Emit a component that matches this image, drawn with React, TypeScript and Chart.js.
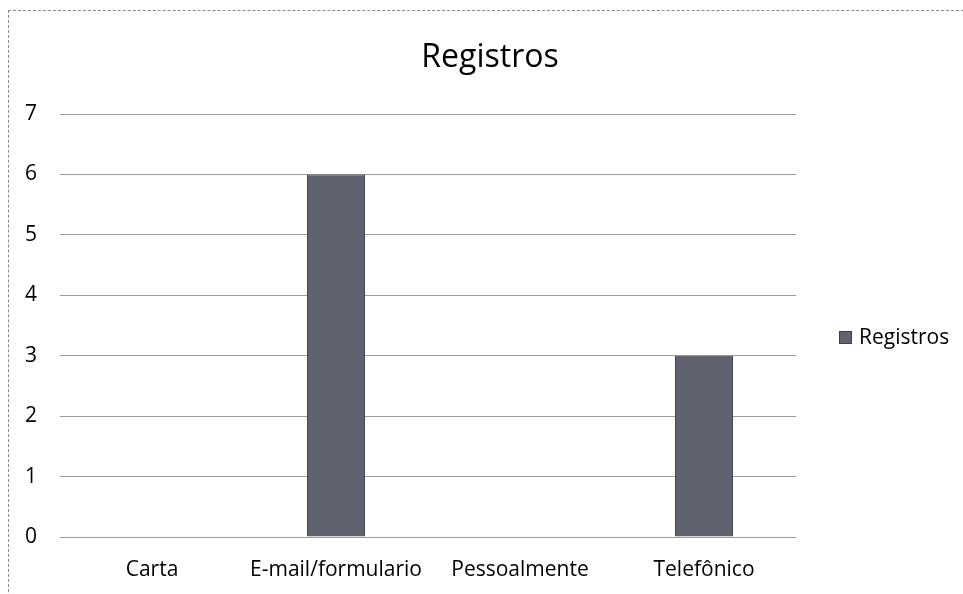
import React, { useEffect, useRef } from "react";
import { Chart, registerables } from "chart.js";

Chart.register(...registerables);

const categories = ["Carta", "E-mail/formulario", "Pessoalmente", "Telefônico"];
const registros = [0, 6, 0, 3];
const yTicks = [0, 1, 2, 3, 4, 5, 6, 7];
const seriesName = "Registros";
const chartTitle = "Registros";

const FONT = "'Open Sans', 'DejaVu Sans', sans-serif";

const titleLegendPlugin = {
  id: "titleLegend",
  afterDraw(chart: any) {
    const ctx = chart.ctx;
    ctx.save();
    // Title
    ctx.fillStyle = "#000";
    ctx.font = `32px ${FONT}`;
    ctx.textAlign = "center";
    ctx.textBaseline = "alphabetic";
    ctx.fillText(chartTitle, 482, 57);
    // Legend
    const ds = chart.data.datasets[0];
    const bx = chart.chartArea.right + 43;
    const by = 321;
    ctx.fillStyle = ds.backgroundColor;
    ctx.fillRect(bx, by, 13, 13);
    ctx.strokeStyle = ds.borderColor;
    ctx.lineWidth = 1;
    ctx.strokeRect(bx + 0.5, by + 0.5, 12, 12);
    ctx.fillStyle = "#000";
    ctx.font = `21px ${FONT}`;
    ctx.textAlign = "left";
    ctx.fillText(ds.label, bx + 20, 334);
    ctx.restore();
  },
};

export default function App() {
  const ref = useRef<HTMLCanvasElement | null>(null);

  useEffect(() => {
    if (!ref.current) return;
    const chart = new Chart(ref.current, {
      type: "bar",
      data: {
        labels: categories,
        datasets: [
          {
            label: seriesName,
            data: registros,
            backgroundColor: "#60626f",
            borderColor: "#3e3f48",
            borderWidth: 1,
            barPercentage: 0.315,
            categoryPercentage: 1,
          },
        ],
      },
      options: {
        responsive: false,
        animation: false,
        layout: { padding: { left: 0, right: 176, top: 104, bottom: 0 } },
        plugins: {
          legend: { display: false },
          title: { display: false },
          tooltip: { enabled: false },
        },
        scales: {
          x: {
            grid: { display: false, drawTicks: false },
            border: { display: false },
            ticks: {
              color: "#000",
              font: { family: FONT, size: 21 },
              padding: 20,
              maxRotation: 0,
              autoSkip: false,
            },
            afterFit(scale: any) {
              scale.height = 57;
            },
          },
          y: {
            min: yTicks[0],
            max: yTicks[yTicks.length - 1],
            afterBuildTicks(scale: any) {
              scale.ticks = yTicks.map((v) => ({ value: v }));
            },
            grid: { color: "#9c9c9c", lineWidth: 1, drawTicks: false },
            border: { display: false },
            ticks: {
              color: "#000",
              font: { family: FONT, size: 21 },
              padding: 23,
            },
            afterFit(scale: any) {
              scale.width = 52;
            },
          },
        },
      },
      plugins: [titleLegendPlugin],
    });
    return () => chart.destroy();
  }, []);

  return (
    <div
      style={{
        position: "absolute",
        left: 0,
        top: 0,
        width: 963,
        height: 594,
        overflow: "hidden",
        background: "#fff",
      }}
    >
      <div
        style={{
          position: "absolute",
          left: 8,
          top: 10,
          width: 1000,
          height: 1000,
          borderTop: "1px dashed #8a8a8a",
          borderLeft: "1px dashed #8a8a8a",
        }}
      />
      <canvas
        ref={ref}
        width={964}
        height={584}
        style={{ position: "absolute", left: 8, top: 10, width: 964, height: 584 }}
      />
    </div>
  );
}
